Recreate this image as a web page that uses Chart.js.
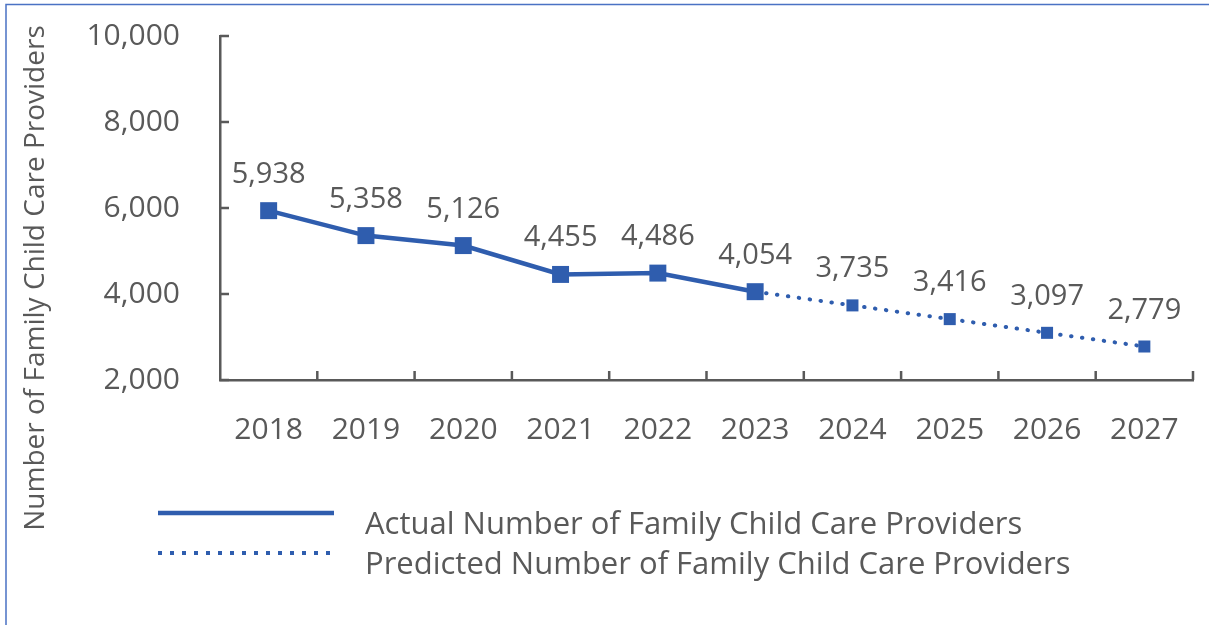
<!DOCTYPE html>
<html>
<head>
<meta charset="utf-8">
<script src="https://cdn.jsdelivr.net/npm/chart.js@4"></script>
<style>
  html, body { margin: 0; padding: 0; background: #fff; }
  #wrap { width: 1209px; height: 625px; }
</style>
</head>
<body>
<div id="wrap"><canvas id="providersChart" width="1209" height="625"></canvas></div>
<script>
const years = ['2018', '2019', '2020', '2021', '2022', '2023', '2024', '2025', '2026', '2027'];
const actualValues = [5938, 5358, 5126, 4455, 4486, 4054, null, null, null, null];
const predictedValues = [null, null, null, null, null, 4054, 3735, 3416, 3097, 2779];
const yTicks = [2000, 4000, 6000, 8000, 10000];
const axisTitle = 'Number of Family Child Care Providers';
const legendLabels = ['Actual Number of Family Child Care Providers', 'Predicted Number of Family Child Care Providers'];

const blue = '#2f5dae';
const grey = '#595959';
const font = '"Open Sans", "Noto Sans", sans-serif';

// draws the page frame, inside tick marks, value labels, axis title and legend
const extras = {
    id: 'extras',
    beforeDraw(chart) {
        const ctx = chart.ctx;
        ctx.save();
        ctx.strokeStyle = '#4a72c4';
        ctx.lineWidth = 1.5;
        ctx.beginPath();
        ctx.moveTo(6, 625);
        ctx.lineTo(6, 4.5);
        ctx.lineTo(1209, 4.5);
        ctx.stroke();
        ctx.restore();
    },
    afterDraw(chart) {
        const ctx = chart.ctx;
        const x = chart.scales.x, y = chart.scales.y;
        const area = chart.chartArea;
        ctx.save();

        // tick marks pointing into the plot
        ctx.strokeStyle = grey;
        ctx.lineWidth = 2.5;
        ctx.beginPath();
        yTicks.forEach(v => {
            const py = y.getPixelForValue(v);
            ctx.moveTo(area.left, py);
            ctx.lineTo(area.left + 9, py);
        });
        for (let i = 1; i <= years.length; i++) {
            const px = (x.getPixelForValue(i - 1) + x.getPixelForValue(i)) / 2;
            const edge = i === years.length ? area.right : px;
            ctx.moveTo(edge, area.bottom);
            ctx.lineTo(edge, area.bottom - 9);
        }
        ctx.stroke();

        // value labels above points
        ctx.fillStyle = grey;
        ctx.font = '29px ' + font;
        ctx.textAlign = 'center';
        ctx.textBaseline = 'alphabetic';
        const pts = chart.getDatasetMeta(1).data;
        const act = chart.getDatasetMeta(0).data;
        years.forEach((yr, i) => {
            const v = actualValues[i] != null ? actualValues[i] : predictedValues[i];
            const p = actualValues[i] != null ? act[i] : pts[i];
            ctx.fillText(v.toLocaleString('en-US'), p.x, p.y - 28);
        });

        // rotated axis title
        ctx.save();
        ctx.font = '28px ' + font;
        ctx.translate(36, 278);
        ctx.rotate(-Math.PI / 2);
        ctx.textBaseline = 'middle';
        ctx.fillText(axisTitle, 0, 0);
        ctx.restore();

        // legend
        ctx.font = '31px ' + font;
        ctx.textAlign = 'left';
        ctx.strokeStyle = blue;
        ctx.lineWidth = 4.5;
        ctx.beginPath();
        ctx.moveTo(158, 513);
        ctx.lineTo(334, 513);
        ctx.stroke();
        ctx.lineWidth = 4;
        ctx.setLineDash([4, 8]);
        ctx.beginPath();
        ctx.moveTo(158, 553);
        ctx.lineTo(334, 553);
        ctx.stroke();
        ctx.setLineDash([]);
        ctx.fillText(legendLabels[0], 365, 534);
        ctx.fillText(legendLabels[1], 365, 574);
        ctx.restore();
    }
};

const ctx = document.getElementById('providersChart').getContext('2d');

const providersChart = new Chart(ctx, {
    type: 'line',
    data: {
        labels: years,
        datasets: [
            {
                label: legendLabels[0],
                data: actualValues,
                borderColor: blue,
                backgroundColor: blue,
                borderWidth: 4.5,
                pointStyle: 'rect',
                pointRadius: 12,
                pointBorderWidth: 0,
                tension: 0,
                clip: false
            },
            {
                label: legendLabels[1],
                data: predictedValues,
                borderColor: blue,
                backgroundColor: blue,
                borderWidth: 4,
                borderDash: [0.5, 10.5],
                borderCapStyle: 'round',
                pointStyle: 'rect',
                pointRadius: [0, 0, 0, 0, 0, 0, 8.5, 8.5, 8.5, 8.5],
                pointBorderWidth: 0,
                tension: 0,
                clip: false
            }
        ]
    },
    options: {
        responsive: false,
        animation: false,
        devicePixelRatio: 1,
        layout: { padding: { left: 0, top: 36, right: 16, bottom: 0 } },
        plugins: { legend: { display: false }, tooltip: { enabled: false } },
        scales: {
            x: {
                offset: true,
                grid: { display: false },
                border: { display: true, color: grey, width: 2.5 },
                ticks: { color: grey, font: { size: 30, family: font }, padding: 24 },
                afterFit(scale) {
                    scale.height = 245;
                    scale.paddingLeft = 0; scale.paddingRight = 0;
                }
            },
            y: {
                min: 2000,
                max: 10000,
                grid: { display: false },
                border: { display: true, color: grey, width: 2.5 },
                ticks: {
                    stepSize: 2000,
                    color: grey,
                    font: { size: 30, family: font },
                    padding: 32,
                    callback: v => v.toLocaleString('en-US')
                },
                afterFit(scale) {
                    scale.width = 220;
                    scale.paddingTop = 0; scale.paddingBottom = 0;
                }
            }
        }
    },
    plugins: [extras]
});
</script>
</body>
</html>
